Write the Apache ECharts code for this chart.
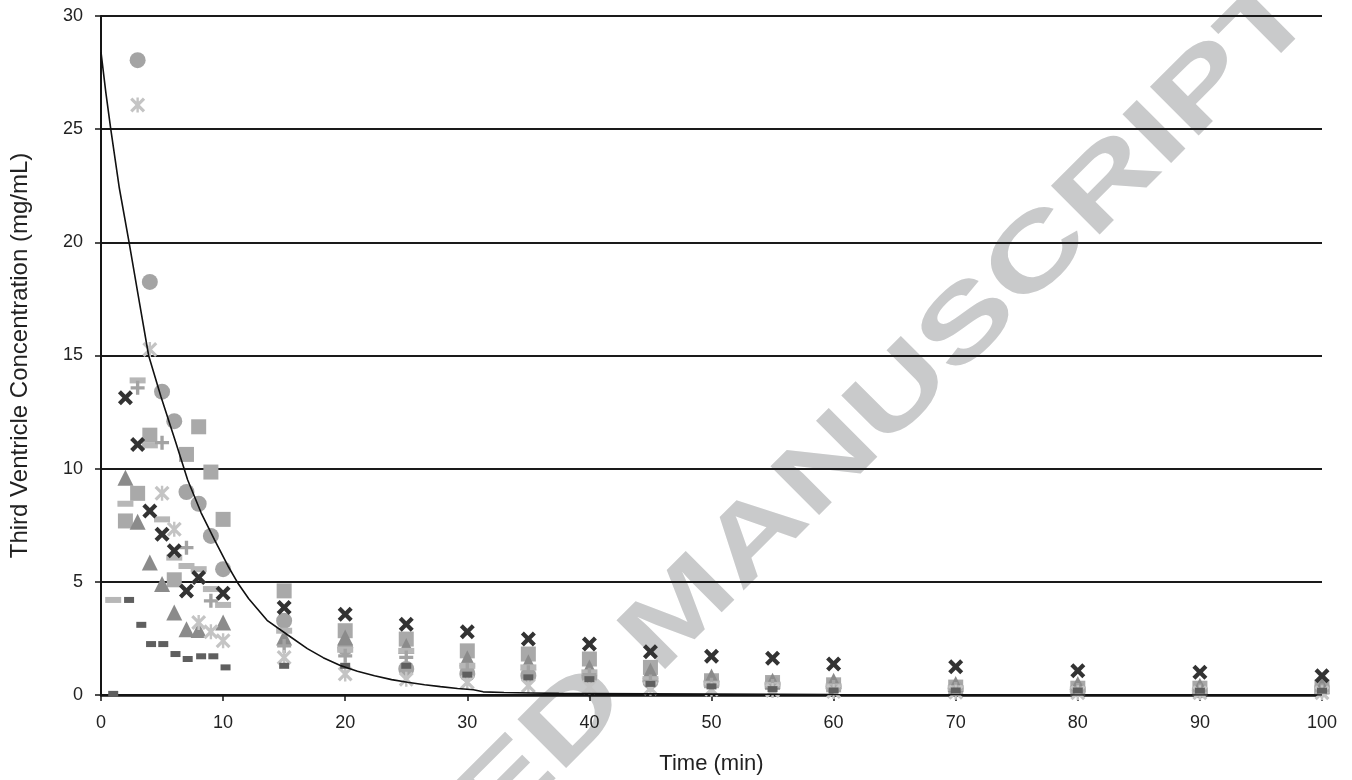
<!DOCTYPE html>
<html>
<head>
<meta charset="utf-8">
<script src="https://cdn.jsdelivr.net/npm/echarts@6/dist/echarts.min.js"></script>
<style>
html,body{margin:0;padding:0;background:#fff;}
#chart{width:1352px;height:780px;}
</style>
</head>
<body>
<div id="chart"></div>
<script>
// ---- data ----
const xTitle = 'Time (min)';
const yTitle = 'Third Ventricle Concentration (mg/mL)';
const watermark = 'ACCEPTED MANUSCRIPT';

const circleT = [3,4,5,6,7,8,9,10,15,20,25,30,35,40,45,50,55,60,70,80,90,100];
const circleC = [28.05,18.25,13.4,12.1,8.97,8.45,7.03,5.56,3.28,2.1,1.15,0.93,0.85,0.8,0.6,0.6,0.49,0.38,0.3,0.25,0.2,0.3];

const squareT = [2,3,4,6,7,8,9,10,15,20,25,30,35,40,45,50,55,60,70,80,90,100];
const squareC = [7.69,8.91,11.48,5.09,10.63,11.85,9.85,7.76,4.6,2.84,2.47,1.95,1.81,1.59,1.22,0.63,0.55,0.45,0.35,0.3,0.3,0.35];

const triT = [2,3,4,5,6,7,8,10,15,20,25,30,35,40,45,50,55,60,70,80,90,100];
const triC = [9.6,7.65,5.85,4.9,3.65,2.91,2.87,3.2,2.54,2.54,2.17,1.62,1.45,1.22,1.07,0.82,0.63,0.63,0.49,0.49,0.41,0.41];

const crossT = [2,3,4,5,6,7,8,10,15,20,25,30,35,40,45,50,55,60,70,80,90,100];
const crossC = [13.13,11.07,8.13,7.1,6.37,4.6,5.19,4.5,3.87,3.57,3.13,2.79,2.47,2.25,1.91,1.71,1.62,1.37,1.25,1.07,1.0,0.85];

const starT = [3,4,5,6,8,9,10,15,20,25,30,35,40,45,50,55,60,70,80,90,100];
const starC = [26.07,15.26,8.91,7.32,3.2,2.79,2.4,1.66,0.93,0.7,0.56,0.41,0.35,0.3,0.25,0.2,0.15,0.12,0.1,0.1,0.1];

const plusT = [3,5,7,9,15,20,25,30,35,40,45,50,55,60,70,80,90,100];
const plusC = [13.57,11.15,6.51,4.16,2.17,1.73,1.66,1.1,1.0,0.9,0.6,0.45,0.4,0.35,0.26,0.22,0.2,0.2];

const dashT = [1,2,3,4,5,6,7,8,9,10,15,20,25,30,35,40,45,50,55,60,70,80,90,100];
const dashC = [4.2,8.45,13.9,11.03,7.76,6.07,5.7,5.56,4.68,3.98,2.84,2.0,1.95,1.29,1.22,1.0,0.7,0.5,0.45,0.38,0.3,0.24,0.19,0.19];

const darkT = [1,2.3,3.3,4.1,5.1,6.1,7.1,8.2,9.2,10.2,15,20,25,30,35,40,45,50,55,60,70,80,90,100];
const darkC = [0.05,4.2,3.1,2.25,2.25,1.81,1.59,1.71,1.71,1.22,1.29,1.29,1.29,0.9,0.78,0.7,0.49,0.38,0.26,0.2,0.2,0.2,0.19,0.19];

// fitted decay curve
const curveT = [0,0.4,0.8,1.5,2.3,3.0,3.9,4.9,6.1,7.1,8.2,9.3,10.4,11.2,12.1,13.6,15.3,16.9,18.2,19.6,21.0,22.4,23.8,25.1,26.5,27.8,29.2,30.5,31.3,33.0,35.2,37.5,40,45,50,60,70,80,90,100];
const curveC = [28.4,26.6,25.0,22.4,20.0,17.8,15.0,13.2,11.2,9.5,8.05,6.85,5.7,4.95,4.25,3.3,2.65,2.05,1.65,1.3,1.05,0.85,0.68,0.56,0.45,0.37,0.29,0.23,0.14,0.11,0.09,0.07,0.06,0.05,0.04,0.02,0.01,0,0,0];

const xMin = 0, xMax = 100, xStep = 10;
const yMin = 0, yMax = 30, yStep = 5;

// ---- drawing ----
const pair = (xs, ys) => xs.map((t, i) => [t, ys[i]]);
const FONT = '"Liberation Sans", Arial, sans-serif';

const X_PATH = 'path://M0,2 L2,0 L5,3 L8,0 L10,2 L7,5 L10,8 L8,10 L5,7 L2,10 L0,8 L3,5 Z';
const STAR_PATH = 'path://M0,1.5 L1.5,0 L5,3.5 L8.5,0 L10,1.5 L6.5,5 L10,8.5 L8.5,10 L5,6.5 L1.5,10 L0,8.5 L3.5,5 Z M4.2,0 L5.8,0 L5.8,10 L4.2,10 Z';
const PLUS_PATH = 'path://M3.8,0 L6.2,0 L6.2,3.8 L10,3.8 L10,6.2 L6.2,6.2 L6.2,10 L3.8,10 L3.8,6.2 L0,6.2 L0,3.8 L3.8,3.8 Z';

function scatter(name, xs, ys, symbol, size, color, z) {
  return {
    name, type: 'scatter', data: pair(xs, ys), symbol, symbolSize: size,
    itemStyle: { color, opacity: 1 }, z, silent: true, animation: false
  };
}

const chart = echarts.init(document.getElementById('chart'), null, { renderer: 'canvas' });
chart.setOption({
  animation: false,
  backgroundColor: '#ffffff',
  textStyle: { fontFamily: FONT },
  grid: { left: 100, right: 30, top: 16, bottom: 84, containLabel: false },
  xAxis: {
    type: 'value', min: xMin, max: xMax, interval: xStep,
    name: xTitle, nameLocation: 'middle', nameGap: 58,
    nameTextStyle: { fontSize: 22, color: '#222', fontFamily: FONT },
    axisLine: { show: true, onZero: false, lineStyle: { color: '#151515', width: 2.5 } },
    axisTick: { show: true, inside: false, length: 6, lineStyle: { color: '#151515', width: 1.5 } },
    axisLabel: { fontSize: 18, color: '#222', margin: 19, fontFamily: FONT },
    splitLine: { show: false }
  },
  yAxis: {
    type: 'value', min: yMin, max: yMax, interval: yStep,
    name: yTitle, nameLocation: 'middle', nameGap: 69,
    nameTextStyle: { fontSize: 24, color: '#222', fontFamily: FONT },
    axisLine: { show: true, onZero: false, lineStyle: { color: '#151515', width: 2 } },
    axisTick: { show: true, inside: false, length: 6, lineStyle: { color: '#151515', width: 1.5 } },
    axisLabel: { fontSize: 18, color: '#222', margin: 18, fontFamily: FONT },
    splitLine: { show: true, lineStyle: { color: '#1a1a1a', width: 2 } }
  },
  graphic: [{
    type: 'text', x: 683, y: 612, rotation: Math.PI / 4, scaleX: 1.4, scaleY: 1,
    z: -100, zlevel: 0, silent: true,
    style: {
      text: watermark, font: 'bold 100px "Liberation Sans", Arial, sans-serif',
      fill: '#c9cacb', textAlign: 'center', textVerticalAlign: 'middle',
      align: 'center', verticalAlign: 'middle'
    }
  }],
  series: [
    scatter('Square', squareT, squareC, 'rect', 15, '#a9a9a9', 3),
    scatter('Circle', circleT, circleC, 'circle', 16, '#a4a4a4', 4),
    scatter('Triangle', triT, triC, 'triangle', 16, '#8b8b8b', 5),
    scatter('Dash', dashT, dashC, 'rect', [16, 6], '#b7b7b7', 6),
    scatter('Plus', plusT, plusC, PLUS_PATH, 14, '#a3a3a3', 7),
    scatter('Star', starT, starC, STAR_PATH, 15, '#c4c4c4', 8),
    scatter('DarkDash', darkT, darkC, 'rect', [10, 6], '#5f5f5f', 9),
    scatter('Cross', crossT, crossC, X_PATH, 15, '#333333', 10),
    {
      name: 'Fit', type: 'line', data: pair(curveT, curveC),
      showSymbol: false, symbol: 'none', smooth: false,
      lineStyle: { color: '#111', width: 1.6 }, z: 12, silent: true, animation: false
    }
  ]
});
</script>
</body>
</html>
